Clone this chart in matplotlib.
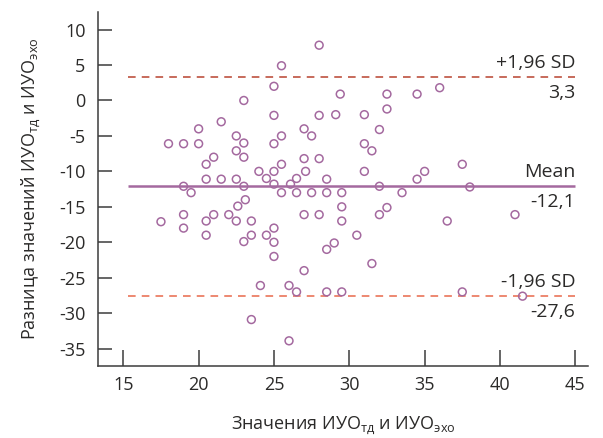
import matplotlib
matplotlib.use('Agg')
import matplotlib.pyplot as plt

plt.rcParams['font.family'] = ['Open Sans', 'DejaVu Sans']
plt.rcParams['mathtext.fontset'] = 'custom'
plt.rcParams['mathtext.rm'] = 'Open Sans'
plt.rcParams['mathtext.it'] = 'Open Sans'
plt.rcParams['axes.unicode_minus'] = False

# среднее значение ИУО (ось X)
mean_vals = [28.0, 25.5, 25.0, 29.4, 23.0, 25.0, 28.0, 29.1, 20.0, 21.5,
             18.0, 19.0, 20.0, 22.5, 23.0, 22.5, 23.0, 21.0, 20.5, 20.5,
             21.5, 22.5, 19.0, 19.5, 23.0, 23.1, 25.0, 25.5, 27.0, 27.5,
             27.0, 28.0, 25.5, 24.0, 25.0, 24.5, 27.1, 26.5, 28.5, 25.0,
             26.1, 25.5, 26.5, 27.5, 28.5, 29.5, 32.5, 34.5, 36.0, 31.0,
             32.5, 32.0, 31.0, 31.5, 31.0, 34.5, 35.0, 37.5, 32.0, 38.0,
             33.5, 22.6, 17.5, 19.0, 19.0, 20.5, 21.0, 20.5, 22.0, 22.5,
             23.5, 23.0, 23.5, 24.5, 25.0, 25.0, 25.0, 27.0, 28.0, 29.5,
             29.5, 29.0, 28.5, 27.0, 24.1, 26.0, 26.5, 28.5, 29.5, 23.5,
             26.0, 32.0, 32.5, 36.5, 41.0, 30.5, 31.5, 37.5, 41.5]
# разница значений (ось Y)
diff_vals = [7.8, 4.9, 2.0, 0.9, 0.0, -2.1, -2.1, -2.0, -4.0, -3.0,
             -6.1, -6.1, -6.1, -5.0, -6.0, -7.1, -8.0, -8.0, -9.0, -11.1,
             -11.1, -11.1, -12.1, -13.0, -12.1, -14.0, -6.1, -5.0, -4.0, -5.0,
             -8.2, -8.2, -9.0, -10.0, -10.0, -11.0, -10.0, -11.0, -11.1, -11.8,
             -11.8, -13.0, -13.0, -13.0, -13.0, -13.0, 0.9, 0.9, 1.8, -2.0,
             -1.2, -4.1, -6.1, -7.1, -10.0, -11.1, -10.0, -9.0, -12.1, -12.2,
             -13.0, -14.9, -17.1, -16.1, -18.0, -17.0, -16.1, -19.0, -16.1, -17.0,
             -17.0, -19.9, -19.0, -19.0, -18.0, -20.0, -22.0, -16.1, -16.1, -15.0,
             -17.0, -20.1, -21.0, -24.0, -26.1, -26.1, -27.0, -27.0, -27.0, -30.9,
             -33.9, -16.1, -15.1, -17.0, -16.1, -19.0, -23.0, -27.0, -27.6]

mean_diff = -12.1
upper_loa = 3.3
lower_loa = -27.6

x_ticks = [15, 20, 25, 30, 35, 40, 45]
y_ticks = [10, 5, 0, -5, -10, -15, -20, -25, -30, -35]

purple = '#a4699f'
dark = '#2b2a29'

fig = plt.figure(figsize=(6.03, 4.38), dpi=100)
ax = fig.add_axes([0.1625, 0.1644, 0.8125, 0.8082])

ax.scatter(mean_vals, diff_vals, s=32, facecolors='none', edgecolors=purple,
           linewidths=1.1, zorder=3)

# линии среднего и пределов согласия
ax.hlines(upper_loa, 15.3, 45, colors='#b8432f', linestyles=(0, (5, 4)), linewidth=1.1)
ax.hlines(mean_diff, 15.3, 45, colors=purple, linewidth=1.8)
ax.hlines(lower_loa, 15.3, 45, colors='#e8684a', linestyles=(0, (5, 4)), linewidth=1.1)

labels = [(upper_loa, '+1,96 SD', '3,3'),
          (mean_diff, 'Mean', '-12,1'),
          (lower_loa, '-1,96 SD', '-27,6')]
for val, top, bottom in labels:
    ax.annotate(top, (45, val), xytext=(0, 3.5), textcoords='offset points',
                ha='right', va='bottom', fontsize=14, color=dark)
    ax.annotate(bottom, (45, val), xytext=(0, -5), textcoords='offset points',
                ha='right', va='top', fontsize=14, color=dark)

ax.set_xlim(13.32, 45.84)
ax.set_ylim(-37.45, 12.48)
ax.set_xticks(x_ticks)
ax.set_yticks(y_ticks)
ax.tick_params(axis='both', direction='in', colors='#3c3c3c', labelcolor=dark,
               labelsize=13, width=1.1)
ax.tick_params(axis='y', length=10, pad=9)
ax.tick_params(axis='x', length=11.5, pad=7)

for side in ['top', 'right']:
    ax.spines[side].set_visible(False)
for side in ['left', 'bottom']:
    ax.spines[side].set_color('#3c3c3c')
    ax.spines[side].set_linewidth(1.1)

ax.set_xlabel(r'Значения ИУО$_\mathrm{тд}$ и ИУО$_\mathrm{эхо}$', fontsize=13,
              color=dark, labelpad=15)
ax.set_ylabel(r'Разница значений ИУО$_\mathrm{тд}$ и ИУО$_\mathrm{эхо}$', fontsize=13,
              color=dark, labelpad=12)

plt.savefig('out.png', dpi=100)
